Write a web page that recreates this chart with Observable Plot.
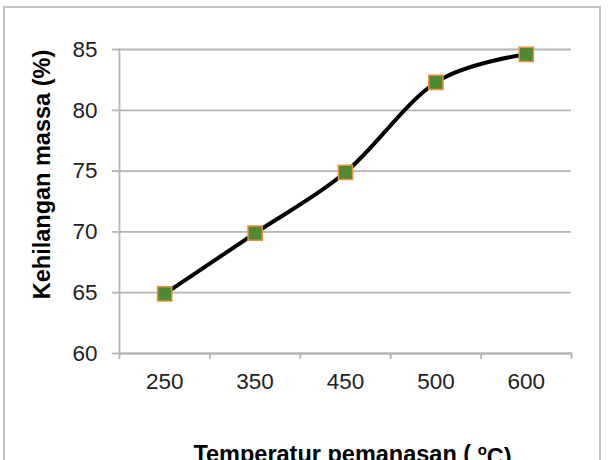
<!DOCTYPE html>
<html>
<head>
<meta charset="utf-8">
<script src="https://cdn.jsdelivr.net/npm/d3@7"></script>
<script src="https://cdn.jsdelivr.net/npm/@observablehq/plot@0.6"></script>
<style>
  html, body { margin: 0; padding: 0; background: #fff; overflow: hidden; }
  #wrap { position: relative; width: 611px; height: 460px; overflow: hidden; }
  #border { position: absolute; left: 3px; top: 6px; width: 598px; height: 470px; border: 2px solid #c4c4c4; box-sizing: border-box; }
  #chart { position: absolute; left: 0; top: 0; }
</style>
</head>
<body>
<div id="wrap"><div id="border"></div><div id="chart"></div></div>
<script>
const categories = ["250", "350", "450", "500", "600"];
const values = [64.9, 69.9, 74.9, 82.3, 84.6];
const yTicks = [60, 65, 70, 75, 80, 85];
const xTitle = "Temperatur pemanasan ( oC)";
const yTitle = "Kehilangan massa (%)";

const data = categories.map((c, i) => ({i, c, v: values[i]}));
const bounds = d3.range(categories.length + 1).map(k => k - 0.5);
const gridColor = "#b5b5b5";

const plot = Plot.plot({
  width: 611,
  height: 460,
  marginLeft: 119,
  marginRight: 40,
  marginTop: 49,
  marginBottom: 107,
  style: {fontFamily: "'Liberation Sans', Arial, sans-serif", fontSize: "22.5px", color: "#222", background: "transparent"},
  x: {type: "linear", domain: [-0.5, categories.length - 0.5]},
  y: {domain: [60, 85]},
  marks: [
    Plot.gridY(yTicks, {stroke: gridColor, strokeOpacity: 1, strokeWidth: 1.8}),
    Plot.axisY({ticks: yTicks, tickSize: 7, stroke: gridColor, strokeWidth: 1.8, text: null, label: null}),
    Plot.axisY({ticks: yTicks, tickSize: 0, tickPadding: 22, fill: "#222", label: null}),
    Plot.axisX({ticks: bounds, tickSize: 6, tickFormat: () => "", stroke: gridColor, strokeWidth: 1.8, label: null}),
    Plot.axisX({ticks: d3.range(categories.length), tickSize: 0, tickPadding: 20, tickFormat: k => categories[k], fill: "#222", label: null}),
    Plot.frame({anchor: "left", stroke: gridColor, strokeWidth: 1.8}),
    Plot.frame({anchor: "bottom", stroke: gridColor, strokeWidth: 1.8}),
    Plot.line(data, {x: "i", y: "v", curve: "cardinal", stroke: "#000", strokeWidth: 4}),
    Plot.dot(data, {x: "i", y: "v", symbol: "square", r: 8, fill: "#4f8a32", stroke: "#e8913a", strokeWidth: 1.5}),
    Plot.text([yTitle], {frameAnchor: "left", textAnchor: "middle", rotate: -90, dx: -77, dy: -27, fontWeight: "bold", fontSize: 23.5, fill: "#000", text: d => d}),
    Plot.text([xTitle], {frameAnchor: "bottom", textAnchor: "middle", lineAnchor: "bottom", dx: 7, dy: 108, fontWeight: "bold", fontSize: 23.5, fill: "#000", text: d => d})
  ]
});
document.getElementById("chart").appendChild(plot);

// render the "o" of "oC" as a superscript
d3.select(plot).selectAll("text").each(function() {
  if (this.textContent === xTitle) {
    const parts = xTitle.split(" oC");
    const t = d3.select(this);
    t.text(null);
    t.append("tspan").text(parts[0] + " ");
    t.append("tspan").attr("dy", "-0.45em").attr("font-size", "15").text("o");
    t.append("tspan").attr("dy", "0.45em").text("C" + parts[1]);
  }
});
</script>
</body>
</html>
